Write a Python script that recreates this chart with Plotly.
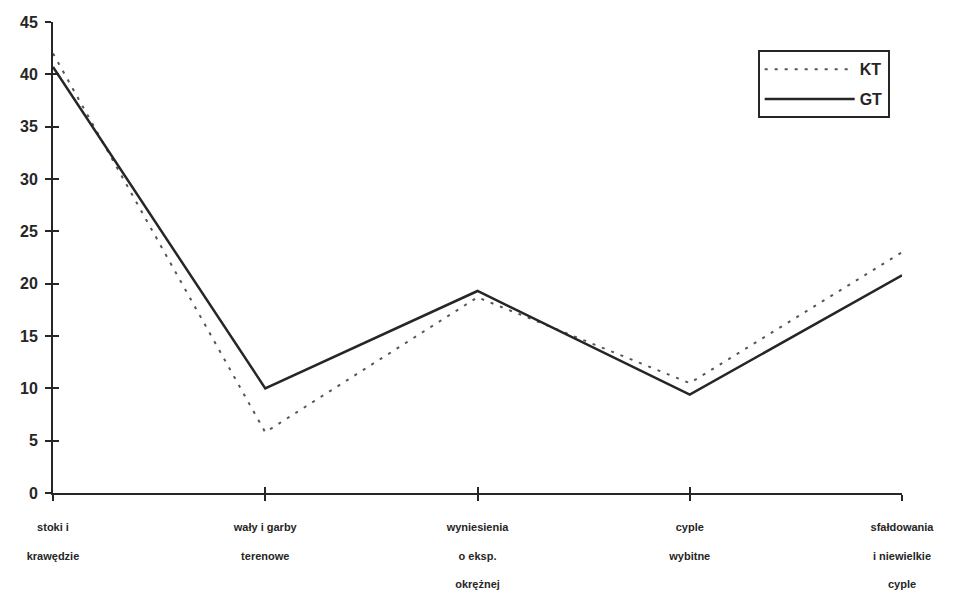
import plotly.graph_objects as go

categories = ["stoki i<br><br>krawędzie", "wały i garby<br><br>terenowe",
              "wyniesienia<br><br>o eksp.<br><br>okrężnej", "cyple<br><br>wybitne",
              "sfałdowania<br><br>i niewielkie<br><br>cyple"]
kt_values = [42.0, 5.8, 18.7, 10.5, 23.0]
gt_values = [40.7, 10.0, 19.3, 9.4, 20.8]
y_ticks = [0, 5, 10, 15, 20, 25, 30, 35, 40, 45]

ink = "#262626"
fig = go.Figure()
fig.add_trace(go.Scatter(x=categories, y=kt_values, name="KT", mode="lines", legendgroup="kt",
                         line=dict(color="#555555", width=2, dash="3px,7px")))
fig.add_trace(go.Scatter(x=categories, y=gt_values, name="GT", mode="lines", legendgroup="gt",
                         line=dict(color=ink, width=2.5)))
# invisible trace to attach the inside-tick overlay axes
fig.add_trace(go.Scatter(x=categories, y=gt_values, xaxis="x2", yaxis="y2", mode="lines",
                         line=dict(width=0), showlegend=False, hoverinfo="skip"))

axis_common = dict(showgrid=False, zeroline=False, linecolor=ink, linewidth=2,
                   tickcolor=ink, tickwidth=2, automargin=False)
# page body adds an 8px margin, so the figure is a bit smaller than the window
fig.update_layout(
    width=945, height=585,
    margin=dict(l=45, r=51, t=14, b=100),
    paper_bgcolor="white", plot_bgcolor="white",
    font=dict(family="Liberation Sans, Arial, sans-serif", color=ink),
    xaxis=dict(type="category", range=[0, 4], showline=True, ticks="outside", ticklen=6,
               tickfont=dict(size=11, weight="bold"), ticklabelstandoff=17, **axis_common),
    yaxis=dict(range=[0, 45], tickvals=y_ticks, showline=True, ticks="outside", ticklen=6,
               tickfont=dict(size=16, weight="bold"), ticklabelstandoff=4, **axis_common),
    xaxis2=dict(type="category", range=[0, 4], overlaying="x", matches="x",
                ticks="inside", ticklen=6, showticklabels=False, **axis_common),
    yaxis2=dict(range=[0, 45], overlaying="y", tickvals=y_ticks, ticks="inside", ticklen=6,
                showticklabels=False, **axis_common),
    legend=dict(x=0.83, y=0.94, xanchor="left", yanchor="top", bgcolor="white",
                bordercolor=ink, borderwidth=2, font=dict(size=16, weight="bold"),
                itemwidth=90, traceorder="grouped", tracegroupgap=6),
)

fig.write_html("out.html")
